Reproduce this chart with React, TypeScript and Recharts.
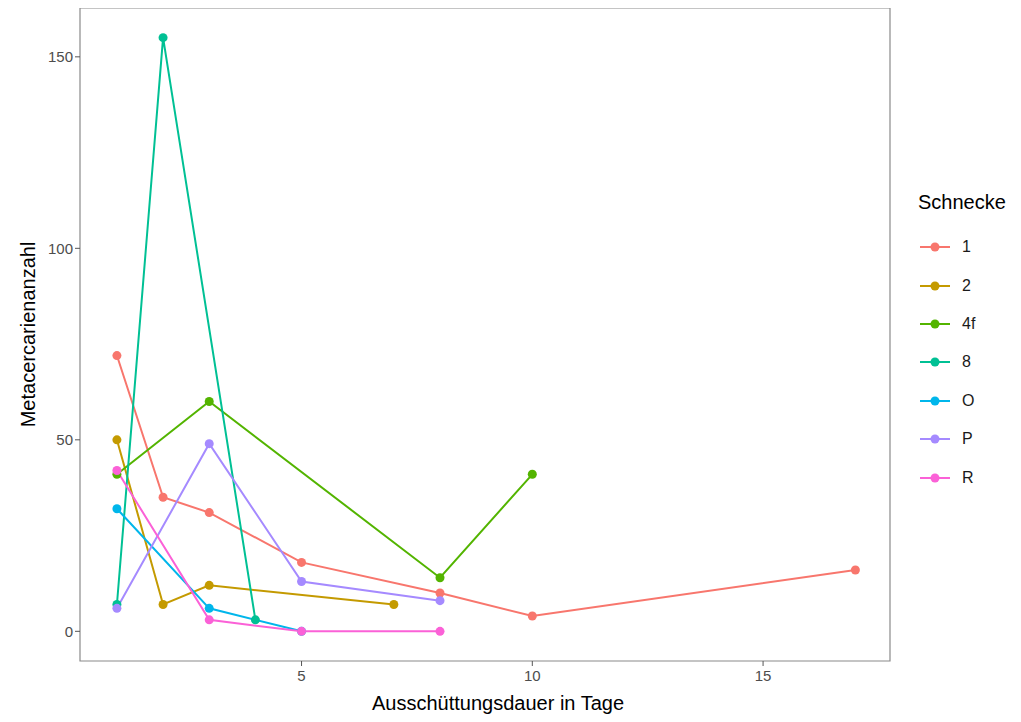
import { LineChart, Line, XAxis, YAxis, Legend, ReferenceArea } from 'recharts'

// Schnecke groups, ggplot hue palette
const snails = ['1', '2', '4f', '8', 'O', 'P', 'R']
const colors = ['#F8766D', '#C49A00', '#53B400', '#00C094', '#00B6EB', '#A58AFF', '#FB61D7']

// x = Ausschüttungsdauer in Tage, y = Metacercarienanzahl
const days1 = [1, 2, 3, 5, 8, 10, 17]
const counts1 = [72, 35, 31, 18, 10, 4, 16]
const days2 = [1, 2, 3, 7]
const counts2 = [50, 7, 12, 7]
const days4f = [1, 3, 8, 10]
const counts4f = [41, 60, 14, 41]
const days8 = [1, 2, 4]
const counts8 = [7, 155, 3]
const daysO = [1, 3, 5]
const countsO = [32, 6, 0]
const daysP = [1, 3, 5, 8]
const countsP = [6, 49, 13, 8]
const daysR = [1, 3, 5, 8]
const countsR = [42, 3, 0, 0]

const xTicks = [5, 10, 15]
const yTicks = [0, 50, 100, 150]

const allDays = [days1, days2, days4f, days8, daysO, daysP, daysR]
const allCounts = [counts1, counts2, counts4f, counts8, countsO, countsP, countsR]

const series = snails.map((name, i) => ({
  name,
  color: colors[i],
  data: allDays[i].map((d, j) => ({ tage: d, anzahl: allCounts[i][j] })),
}))

const font = '"Liberation Sans", Arial, sans-serif'

function SnailLegend() {
  return (
    <div style={{ fontFamily: font }}>
      <div style={{ fontSize: 20, color: '#000', marginBottom: 14 }}>Schnecke</div>
      {series.map(s => (
        <div key={s.name} style={{ display: 'flex', alignItems: 'center', height: 38.4 }}>
          <svg width={34} height={12}>
            <line x1={2} y1={6} x2={32} y2={6} stroke={s.color} strokeWidth={2} />
            <circle cx={17} cy={6} r={4.5} fill={s.color} />
          </svg>
          <span style={{ fontSize: 16, color: '#1a1a1a', marginLeft: 10 }}>{s.name}</span>
        </div>
      ))}
    </div>
  )
}

export default function App() {
  return (
    <div style={{ margin: -8, background: '#fff', width: 1021, height: 722 }}>
      <LineChart width={1021} height={722} margin={{ top: 8, right: 131, bottom: 0, left: 20 }}>
        <ReferenceArea x1={0.2} x2={17.75} y1={-7.75} y2={162.75} fill="none" stroke="#8a8a8a" strokeWidth={1.2} />
        <XAxis
          type="number"
          dataKey="tage"
          domain={[0.2, 17.75]}
          ticks={xTicks}
          allowDataOverflow
          height={61}
          axisLine={false}
          tickLine={{ stroke: '#555' }}
          tickSize={5}
          tick={{ fill: '#4D4D4D', fontSize: 15, fontFamily: font, dy: 2 }}
          label={{ value: 'Ausschüttungsdauer in Tage', position: 'insideBottom', offset: 12, dx: 13, fill: '#000', fontSize: 20, fontFamily: font }}
        />
        <YAxis
          type="number"
          dataKey="anzahl"
          domain={[-7.75, 162.75]}
          ticks={yTicks}
          allowDataOverflow
          width={60}
          axisLine={false}
          tickLine={{ stroke: '#555' }}
          tickSize={5}
          tick={{ fill: '#4D4D4D', fontSize: 15, fontFamily: font }}
          label={{ value: 'Metacercarienanzahl', angle: -90, position: 'insideLeft', offset: 8, fill: '#000', fontSize: 20, fontFamily: font, style: { textAnchor: 'middle' } }}
        />
        {series.map(s => (
          <Line
            key={s.name}
            data={s.data}
            dataKey="anzahl"
            name={s.name}
            type="linear"
            stroke={s.color}
            strokeWidth={2}
            dot={{ r: 4.5, fill: s.color, stroke: s.color, strokeWidth: 0 }}
            activeDot={false}
            isAnimationActive={false}
          />
        ))}
        <Legend
          layout="vertical"
          align="center"
          verticalAlign="middle"
          content={() => <SnailLegend />}
          wrapperStyle={{ left: 918, top: 191, width: 100 }}
        />
      </LineChart>
    </div>
  )
}
